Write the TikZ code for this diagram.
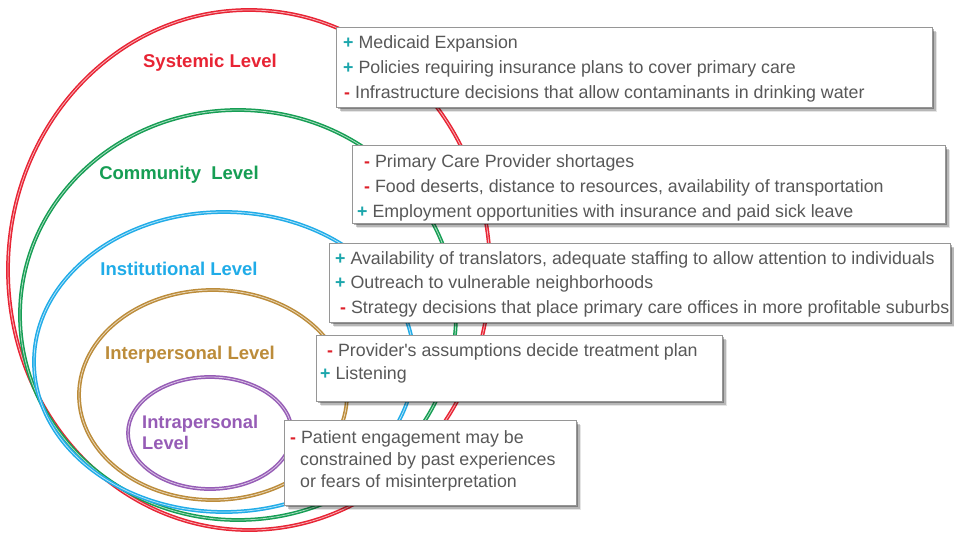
\documentclass[tikz,border=0pt]{standalone}
\usepackage{fontspec}
\setmainfont{Liberation Sans}
\usetikzlibrary{shadows}

\definecolor{sysred}{RGB}{232,36,52}
\definecolor{comgreen}{RGB}{22,158,84}
\definecolor{insblue}{RGB}{32,172,232}
\definecolor{inttan}{RGB}{188,140,58}
\definecolor{intpurple}{RGB}{150,92,182}
\definecolor{txtgray}{RGB}{88,88,88}
\definecolor{plusteal}{RGB}{28,166,172}
\definecolor{minusred}{RGB}{222,32,42}
\definecolor{boxgray}{RGB}{150,150,150}

\newcommand\posmark{{\color{plusteal}\textbf{+}}\ }
\newcommand\negmark{{\color{minusred}\textbf{-}}\ }

\begin{document}
\begin{tikzpicture}[
  x=1pt, y=-1pt,
  levelring/.style={line width=1.5pt, draw=#1, double=#1!35, double distance=0.8pt},
  levellabel/.style={inner sep=0, font=\bfseries\fontsize{18.5}{22}\selectfont},
  infobox/.style={draw=boxgray, line width=1pt, fill=white, anchor=north west, inner sep=0,
    drop shadow={shadow xshift=1.5pt, shadow yshift=-1.5pt, fill=black, opacity=0.3},
    drop shadow={shadow xshift=3pt, shadow yshift=-3pt, fill=black, opacity=0.2},
    drop shadow={shadow xshift=4.5pt, shadow yshift=-4.5pt, fill=black, opacity=0.1}},
  boxtext/.style={anchor=base west, inner sep=0, text=txtgray, font=\fontsize{17.8}{21}\selectfont}
]
\fill[white] (0,0) rectangle (954,533);
\useasboundingbox (0,0) rectangle (954,533);

% nested levels, outermost first
\draw[levelring=sysred]    (249,270) ellipse [x radius=241, y radius=260];
\draw[levelring=comgreen]  (238,315) ellipse [x radius=218, y radius=205];
\draw[levelring=insblue]   (224,362) ellipse [x radius=190, y radius=150];
\draw[levelring=inttan]    (213,395) ellipse [x radius=134, y radius=105];
\draw[levelring=intpurple] (210,433) ellipse [x radius=82, y radius=56];

% level names
\node[levellabel, text=sysred]    (lsys) at (210,63)  {Systemic Level};
\node[levellabel, text=comgreen]  (lcom) at (179,175) {Community\ \ Level};
\node[levellabel, text=insblue]   (lins) at (179,269) {Institutional Level};
\node[levellabel, text=inttan]    (lint) at (190,355) {Interpersonal Level};
\node[levellabel, text=intpurple, align=left, font=\bfseries\fontsize{18.3}{21.5}\selectfont, anchor=north west]
  (lprs) at (142,415) {Intrapersonal\\Level};

% influences at each level
\node[infobox, minimum width=596pt, minimum height=80pt] (sysbox) at (336,27) {};
\node[boxtext] (sys1) at (343,48) {\posmark Medicaid Expansion};
\node[boxtext] (sys2) at (343,73) {\posmark Policies requiring insurance plans to cover primary care};
\node[boxtext] (sys3) at (344,98) {\negmark Infrastructure decisions that allow contaminants in drinking water};

\node[infobox, minimum width=593pt, minimum height=78pt] (combox) at (352,145) {};
\node[boxtext] (com1) at (364,167) {\negmark Primary Care Provider shortages};
\node[boxtext] (com2) at (364,192) {\negmark Food deserts, distance to resources, availability of transportation};
\node[boxtext] (com3) at (357,217) {\posmark Employment opportunities with insurance and paid sick leave};

\node[infobox, minimum width=621pt, minimum height=79pt] (insbox) at (329,243) {};
\node[boxtext] (ins1) at (335,264) {\posmark Availability of translators, adequate staffing to allow attention to individuals};
\node[boxtext] (ins2) at (335,288) {\posmark Outreach to vulnerable neighborhoods};
\node[boxtext] (ins3) at (340,313) {\negmark Strategy decisions that place primary care offices in more profitable suburbs};

\node[infobox, minimum width=406pt, minimum height=66pt] (intbox) at (316,335) {};
\node[boxtext] (int1) at (327,356) {\negmark Provider\textquotesingle s assumptions decide treatment plan};
\node[boxtext] (int2) at (320,379) {\posmark Listening};

\node[infobox, minimum width=292pt, minimum height=85pt] (prsbox) at (284,420) {};
\node[boxtext] (prs1) at (290,443) {\negmark Patient engagement may be};
\node[boxtext] (prs2) at (300,465) {constrained by past experiences};
\node[boxtext] (prs3) at (300,487) {or fears of misinterpretation};
\end{tikzpicture}
\end{document}
